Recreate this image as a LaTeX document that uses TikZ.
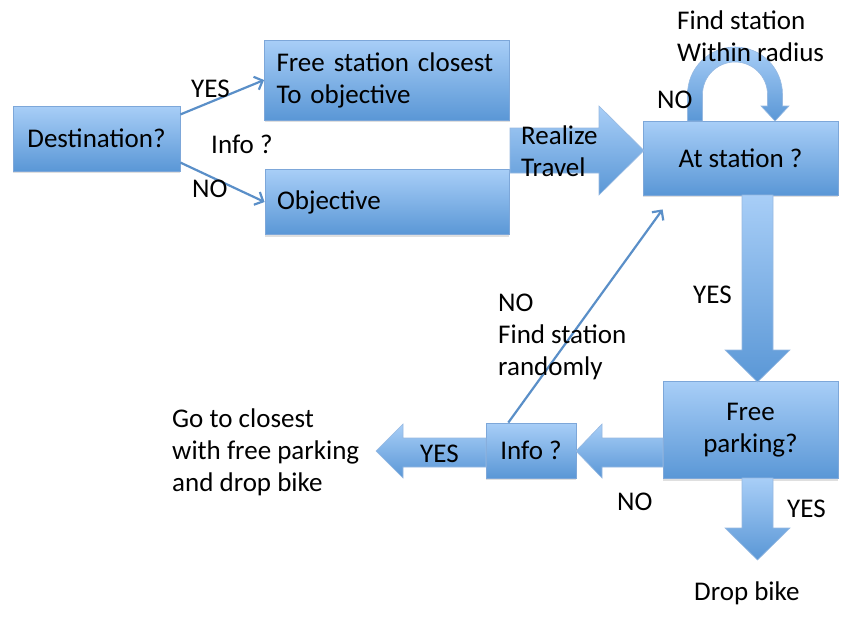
\documentclass[tikz,border=0pt]{standalone}
\usepackage{fontspec}
\setmainfont{Carlito}
\usetikzlibrary{arrows.meta,calc,shadows}

\definecolor{boxtop}{HTML}{A8CEF7}
\definecolor{boxbot}{HTML}{5A97D6}
\definecolor{boxline}{HTML}{7DA7D9}
\definecolor{thinline}{HTML}{5A8FC8}

\begin{document}
\begin{tikzpicture}[x=1pt,y=-1pt,
    every node/.style={font=\fontsize{27}{32}\selectfont},
    box/.style={draw=boxline,line width=0.8pt,top color=boxtop,bottom color=boxbot,
        drop shadow={shadow xshift=0pt,shadow yshift=-2pt,opacity=0.25}},
    fat/.style={draw=boxline!80,line width=0.6pt,top color=boxtop,bottom color=boxbot},
    thin/.style={draw=thinline,line width=2.2pt,-{Straight Barb[length=7pt,width=14pt,line width=2.2pt]}},
    lbl/.style={anchor=base west,inner sep=0pt,align=left}]
    \useasboundingbox (0,0) rectangle (857,630);

    \node[box,minimum width=167pt,minimum height=65pt] (dest) at (96.5,138.5) {Destination?};
    \node[box,minimum width=245pt,minimum height=80pt,text width=221pt,align=left] (freest) at (387,80)
        {Free station closest\\To objective};
    \node[box,minimum width=244pt,minimum height=65pt,text width=220pt,align=left] (obj) at (387,202) {Objective};
    \node[box,minimum width=195pt,minimum height=74pt] (atst) at (740.5,158) {At station ?};
    \node[box,minimum width=175pt,minimum height=97pt,align=center] (freepk) at (750.5,430) {Free\\parking?};
    \node[box,minimum width=90pt,minimum height=55pt,inner sep=2pt] (info) at (531,450.5) {Info ?};

    \draw[thin] (dest.16) -- (freest.west);
    \draw[thin] (dest.-16) -- (obj.west);

    % block arrows
    \path[fat] (510,128) -- (599,128) -- (599,106) -- (644,150.5) -- (599,195) -- (599,173) -- (510,173) -- cycle;
    \path[fat] (742,195) -- (773,195) -- (773,350) -- (790,350) -- (757.5,382) -- (725,350) -- (742,350) -- cycle;
    \path[fat] (663,438) -- (602,438) -- (602,424) -- (576,451) -- (602,478) -- (602,467) -- (663,467) -- cycle;
    \path[fat] (486,438) -- (403,438) -- (403,424) -- (376,451) -- (403,478) -- (403,467) -- (486,467) -- cycle;
    \path[fat] (742,478) -- (773,478) -- (773,528) -- (790,528) -- (757.5,560) -- (725,528) -- (742,528) -- cycle;
    \path[fat] (687.5,121) -- (687.5,94.5) arc[start angle=180,end angle=0,radius=47.5pt]
        -- (782.5,106) -- (789,106) -- (775,121) -- (761,106) -- (767.5,106) -- (767.5,94.5)
        arc[start angle=0,end angle=180,radius=32.5pt] -- (702.5,121) -- cycle;

    \coordinate (backtip) at ($(atst.south west)+(20,14)$);
    \draw[thin] ($(info.north west)!0.25!(info.north east)$) -- (backtip);

    \node[lbl] (yes1) at (191,97) {YES};
    \node[lbl] (no1) at (192,197) {NO};
    \node[lbl] (infoq) at (211,153) {Info ?};
    \node[lbl] (travel) at (521,176) {Realize\\Travel};
    \node[lbl] (radius) at (677,61) {Find station\\Within radius};
    \node[lbl] (no2) at (657,108) {NO};
    \node[lbl] (yes2) at (693,303) {YES};
    \node[lbl] (random) at (498,375) {NO\\Find station\\randomly};
    \node[lbl] (closest) at (172,491) {Go to closest\\with free parking\\and drop bike};
    \node[lbl] (yes3) at (420,462) {YES};
    \node[lbl] (no3) at (617,510) {NO};
    \node[lbl] (yes4) at (787,517) {YES};
    \node[lbl] (drop) at (694,600) {Drop bike};
\end{tikzpicture}
\end{document}
